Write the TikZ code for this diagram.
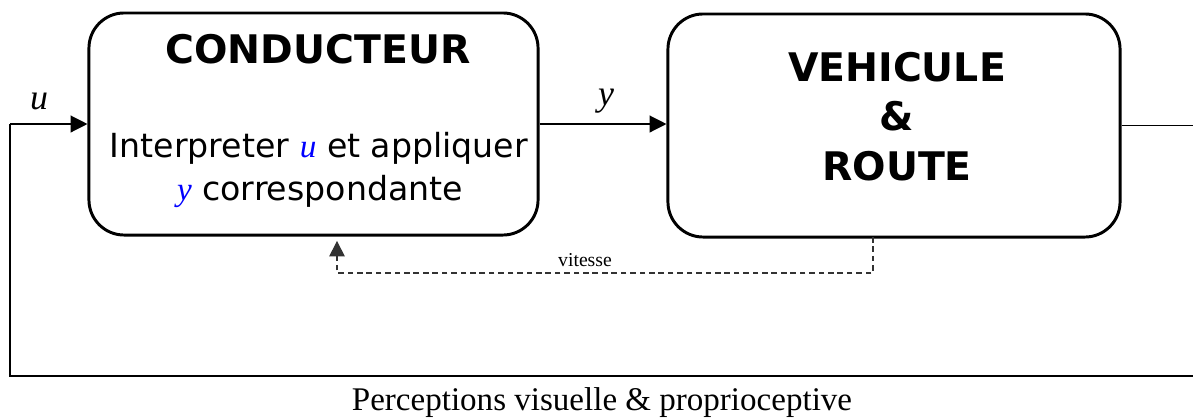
\documentclass[tikz,border=0pt]{standalone}
\usepackage{fontspec}
\usepackage{xcolor}
\usepackage{tikz}
\usetikzlibrary{arrows.meta, positioning}
\setmainfont{Liberation Serif}
\newfontfamily\blockfont{DejaVu Sans}
\definecolor{varblue}{HTML}{0000FF}
\definecolor{wiregray}{HTML}{333333}

\begin{document}
\begin{tikzpicture}[x=0.025cm, y=-0.025cm,
  block/.style={draw, line width=2.1pt, rounded corners=25pt, inner sep=0pt},
  wire/.style={line width=0.9pt},
  sig/.style={wire, -{Triangle[length=12pt, width=12pt]}},
  fb/.style={wiregray, line width=0.9pt, dash pattern=on 4pt off 2.7pt, -{Triangle[length=11pt, width=11pt]}, shorten >=3.5pt},
  title/.style={anchor=base, font=\fontsize{28}{28}\selectfont\blockfont\bfseries},
  body/.style={anchor=base, font=\fontsize{23.6}{23.6}\selectfont\blockfont},
  var/.style={anchor=base, font=\fontsize{25.5}{25.5}\selectfont\itshape}]

  % Frame of the picture
  \path[use as bounding box, clip] (0,0) rectangle (1193,417);

  % Driver block
  \node[block, minimum width=11.225cm, minimum height=5.55cm] (cond) at (313.5,124) {};
  \node[title] (condtitle) at (318,63) {CONDUCTEUR};
  \node[body] (condline1) at (319,157) {Interpreter \textcolor{varblue}{\rmfamily\itshape u} et appliquer};
  \node[body] (condline2) at (320,200) {\textcolor{varblue}{\rmfamily\itshape y} correspondante};

  % Vehicle and road block
  \node[block, minimum width=11.3cm, minimum height=5.575cm] (veh) at (894,125.5) {};
  \node[title] (vehtitle1) at (897,81) {VEHICULE};
  \node[title] (vehtitle2) at (897,130) {\&};
  \node[title] (vehtitle3) at (897,180) {ROUTE};

  % Input u and outer loop
  \coordinate (uin) at (10,124);
  \coordinate (rgt) at (1200,376);
  \draw[sig] (uin) -- (cond.west);
  \node[var] (ulabel) at (39,109) {u};
  \draw[wire] (veh.east) -| (rgt) -| (uin);

  % Command y
  \draw[sig] (cond.east) -- (cond.east -| veh.west);
  \node[var] (ylabel) at (606,105) {y};

  % Speed feedback (dashed)
  \coordinate (vtap) at (873,237);
  \coordinate (ctap) at (337,236);
  \draw[fb] (vtap) -- ++(0,36) -| (ctap);
  \node[anchor=base, font=\fontsize{14}{14}\selectfont] (speed) at (585,266) {vitesse};

  % Loop caption
  \node[anchor=base, font=\fontsize{23.5}{23.5}\selectfont] (percep) at (602,410) {Perceptions visuelle \& proprioceptive};
\end{tikzpicture}
\end{document}
